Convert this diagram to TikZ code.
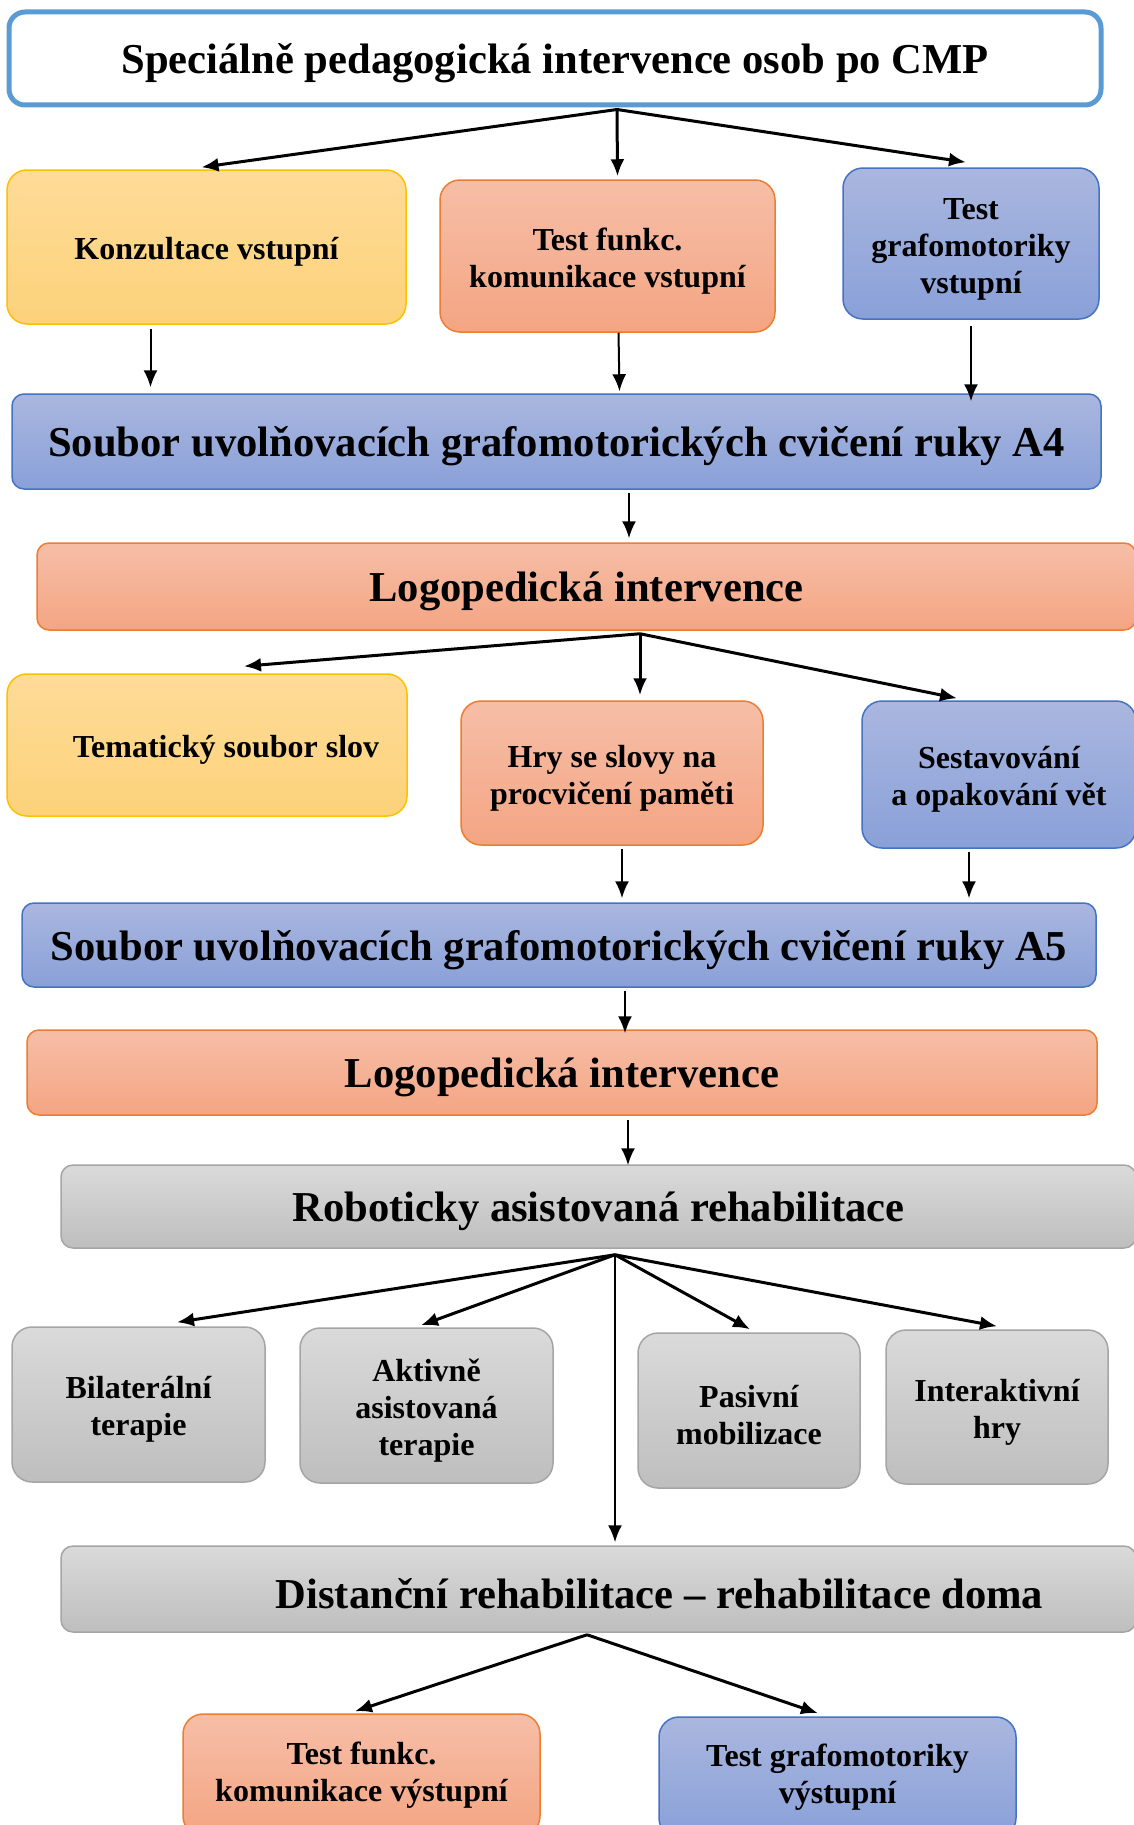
\documentclass[tikz,border=0pt]{standalone}
\usepackage{fontspec}
\setmainfont{Liberation Serif}
\usetikzlibrary{arrows.meta}
\definecolor{titleline}{HTML}{5B9BD5}
\definecolor{yelline}{HTML}{FFC000}
\definecolor{yeltop}{RGB}{254,219,152}
\definecolor{yelbot}{RGB}{252,210,122}
\definecolor{salline}{HTML}{ED7D31}
\definecolor{saltop}{RGB}{246,190,167}
\definecolor{salbot}{RGB}{244,165,131}
\definecolor{bluline}{HTML}{4472C4}
\definecolor{blutop}{RGB}{170,183,223}
\definecolor{blubot}{RGB}{137,160,216}
\definecolor{grayline}{HTML}{A5A5A5}
\definecolor{graytop}{RGB}{218,218,218}
\definecolor{graybot}{RGB}{190,190,190}
\newcommand{\barfont}{\fontsize{42.6}{46}\selectfont\bfseries}
\newcommand{\boxfont}{\fontsize{32}{37}\selectfont\bfseries}
\newcommand{\lift}{\rule{0pt}{32pt}}
\tikzset{
  box/.style={rounded corners=20pt, line width=1.5pt, align=center, inner sep=0pt, font=\boxfont,
              execute at begin node={\rule{0pt}{32pt}}},
  bar/.style={box, rounded corners=12pt, font=\barfont,
              execute at begin node={\rule{0pt}{40pt}}},
  yelbox/.style={top color=yeltop, bottom color=yelbot, draw=yelline},
  salbox/.style={top color=saltop, bottom color=salbot, draw=salline},
  blubox/.style={top color=blutop, bottom color=blubot, draw=bluline},
  graybox/.style={top color=graytop, bottom color=graybot, draw=grayline},
  fan/.style={->, line width=3pt},
  down/.style={->, line width=2pt}
}
\begin{document}
\begin{tikzpicture}[x=1pt, y=-1pt, >={Latex[length=17pt,width=14pt]}]
  \useasboundingbox (0,0) rectangle (1134,1825);
  \fill[white] (0,0) rectangle (1134,1825);

  \node[bar, draw=titleline, fill=white, line width=5pt, rounded corners=16pt,
        minimum width=1092pt, minimum height=93pt] (top) at (555,58.5)
        {Speciálně pedagogická intervence osob po CMP};

  \node[box, yelbox, minimum width=399pt, minimum height=154pt] (konz) at (206.5,247) {Konzultace vstupní};
  \node[box, salbox, minimum width=335pt, minimum height=152pt] (testin) at (607.5,256) {\lift Test funkc.\\komunikace vstupní};
  \node[box, blubox, minimum width=256pt, minimum height=151pt] (grafin) at (971,243.5) {\lift Test\\grafomotoriky\\vstupní};

  \node[bar, blubox, minimum width=1089pt, minimum height=95pt] (a4) at (556.5,441.5) {Soubor uvolňovacích grafomotorických cvičení ruky A4};
  \node[bar, salbox, minimum width=1099pt, minimum height=87pt] (logo1) at (586.5,586.5) {Logopedická intervence};

  \node[box, yelbox, minimum width=400pt, minimum height=142pt] (tema) at (207,745) {\hspace*{38pt}Tematický soubor slov};
  \node[box, salbox, minimum width=302pt, minimum height=144pt] (hry) at (612,773) {\lift Hry se slovy na\\procvičení paměti};
  \node[box, blubox, minimum width=274pt, minimum height=147pt] (sest) at (999,774.5) {\lift Sestavování\\a opakování vět};

  \node[bar, blubox, minimum width=1074pt, minimum height=84pt] (a5) at (559,945) {Soubor uvolňovacích grafomotorických cvičení ruky A5};
  \node[bar, salbox, minimum width=1070pt, minimum height=85pt] (logo2) at (562,1072.5) {Logopedická intervence};
  \node[bar, graybox, minimum width=1075pt, minimum height=83pt] (robo) at (598.5,1206.5) {Roboticky asistovaná rehabilitace};

  \node[box, graybox, minimum width=253pt, minimum height=155pt] (bila) at (138.5,1404.5) {\lift Bilaterální\\terapie};
  \node[box, graybox, minimum width=253pt, minimum height=155pt] (akt) at (426.5,1405.5) {\lift Aktivně\\asistovaná\\terapie};
  \node[box, graybox, minimum width=222pt, minimum height=155pt] (pas) at (749,1410.5) {\lift Pasivní\\mobilizace};
  \node[box, graybox, minimum width=222pt, minimum height=154pt] (inter) at (997,1407) {\lift Interaktivní\\hry};

  \node[bar, graybox, minimum width=1075pt, minimum height=86pt] (dist) at (598.5,1589) {\hspace*{122pt}Distanční rehabilitace -- rehabilitace doma};

  \node[box, salbox, minimum width=357pt, minimum height=122pt] (testout) at (361.5,1775) {Test funkc.\\komunikace výstupní};
  \node[box, blubox, minimum width=357pt, minimum height=121pt] (grafout) at (837.5,1777.5) {Test grafomotoriky\\výstupní};

  % first level
  \path[fan]
    ([xshift=62pt,yshift=-2pt]top.south) edge ([xshift=-5pt,yshift=2pt]konz.north)
    ([xshift=62pt,yshift=-2pt]top.south) edge ([xshift=10pt,yshift=3pt]testin.north)
    ([xshift=62pt,yshift=-2pt]top.south) edge ([xshift=-5pt,yshift=5pt]grafin.north);
  \path[down]
    ([xshift=-56pt,yshift=-4pt]konz.south) edge ([xshift=-56pt,yshift=6pt]konz.south |- a4.north)
    ([xshift=11pt]testin.south) edge ([xshift=12pt,yshift=2pt]testin.south |- a4.north)
    ([yshift=-6pt]grafin.south) edge ([yshift=-8pt]grafin.south |- a4.north)
    ([xshift=72.5pt,yshift=-3pt]a4.south) edge ([xshift=72.5pt,yshift=4pt]a4.south |- logo1.north);

  % second level
  \path[fan]
    ([xshift=53.5pt,yshift=-3pt]logo1.south) edge ([xshift=37pt,yshift=7pt]tema.north)
    ([xshift=53.5pt,yshift=-3pt]logo1.south) edge ([xshift=28pt,yshift=5pt]hry.north)
    ([xshift=53.5pt,yshift=-3pt]logo1.south) edge ([xshift=-42pt,yshift=2pt]sest.north);
  \path[down]
    ([xshift=10pt,yshift=-3pt]hry.south) edge ([xshift=10pt,yshift=4pt]hry.south |- a5.north)
    ([xshift=-30pt,yshift=-3pt]sest.south) edge ([xshift=-30pt,yshift=4pt]sest.south |- a5.north)
    ([xshift=66pt,yshift=-3pt]a5.south) edge ([xshift=66pt,yshift=-4pt]a5.south |- logo2.north)
    ([xshift=66pt,yshift=-4pt]logo2.south) edge ([xshift=66pt,yshift=-1pt]logo2.south |- robo.north);

  % robotic rehabilitation
  \path[fan]
    ([xshift=16.5pt,yshift=-6pt]robo.south) edge ([xshift=38.5pt,yshift=4pt]bila.north)
    ([xshift=16.5pt,yshift=-6pt]robo.south) edge ([xshift=-5.5pt,yshift=2pt]akt.north)
    ([xshift=16.5pt,yshift=-6pt]robo.south) edge ([xshift=1pt,yshift=3pt]pas.north)
    ([xshift=16.5pt,yshift=-6pt]robo.south) edge ([yshift=3pt]inter.north);
  \path[down]
    ([xshift=16.5pt,yshift=-6pt]robo.south) edge ([xshift=16.5pt,yshift=3pt]dist.north);

  % distance rehabilitation
  \path[fan]
    ([xshift=-11.5pt,yshift=-2pt]dist.south) edge ([xshift=-6.5pt,yshift=2pt]testout.north)
    ([xshift=-11.5pt,yshift=-2pt]dist.south) edge ([xshift=-19.5pt,yshift=3pt]grafout.north);
\end{tikzpicture}
\end{document}
